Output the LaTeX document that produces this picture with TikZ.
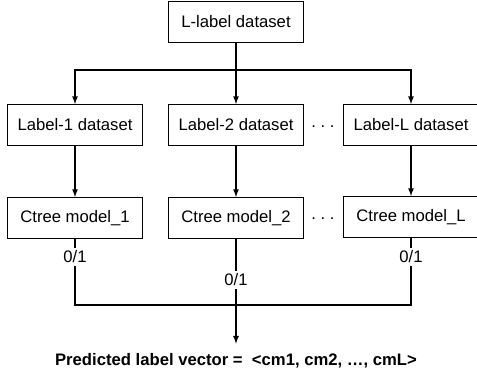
\documentclass[tikz,border=0pt]{standalone}
\usepackage{fontspec}
\setmainfont{Liberation Sans}
\begin{document}
\begin{tikzpicture}[>=latex, line width=1pt, x=0.75pt, y=-0.75pt]
        \tikzstyle{box}=[rectangle, draw=black, fill=white, minimum width=101pt, minimum height=30.5pt, inner sep=0pt, font=\fontsize{12.5}{14}\selectfont]
        \tikzstyle{lbl}=[fill=white, inner sep=2pt, font=\fontsize{12.5}{14}\selectfont]
        \useasboundingbox (0,0) rectangle (477,375);

        % Nodes
        \node[box] (all) at (236,22) {L-label dataset};
        \node[box] (d1) at (75,125) {Label-1 dataset};
        \node[box] (d2) at (236,125) {Label-2 dataset};
        \node[box] (dL) at (411,125) {Label-L dataset};
        \node[box] (m1) at (75,218) {Ctree model\_1};
        \node[box] (m2) at (236,218) {Ctree model\_2};
        \node[box] (mL) at (411,217) {Ctree model\_L};
        \node[lbl, fill=none] (dots1) at (323,127) {.\ .\ .};
        \node[lbl, fill=none] (dots2) at (323,219) {.\ .\ .};
        \node[lbl] (o1) at (75,257) {0/1};
        \node[lbl] (o2) at (236,280) {0/1};
        \node[lbl] (oL) at (411,257) {0/1};
        \node[inner sep=7pt, font=\fontsize{12.5}{14}\selectfont\bfseries] (out) at (236,361) {Predicted label vector = \ <cm1, cm2, …, cmL>};
        \coordinate (split) at (236,70);
        \coordinate (join) at (236,305);

        % Split into one dataset per label
        \draw (all) -- (split);
        \draw[->] (split) -| (d1);
        \draw[->] (split) -- (d2);
        \draw[->] (split) -| (dL);

        % Datasets -> models
        \draw[->] (d1) -- (m1);
        \draw[->] (d2) -- (m2);
        \draw[->] (dL) -- (mL);

        % Models -> predictions
        \draw (m1) -- (o1);
        \draw (m2) -- (o2);
        \draw (mL) -- (oL);
        \draw (o1) |- (join);
        \draw (oL) |- (join);
        \draw (o2) -- (join);
        \draw[->] (join) -- (out);
\end{tikzpicture}
\end{document}
